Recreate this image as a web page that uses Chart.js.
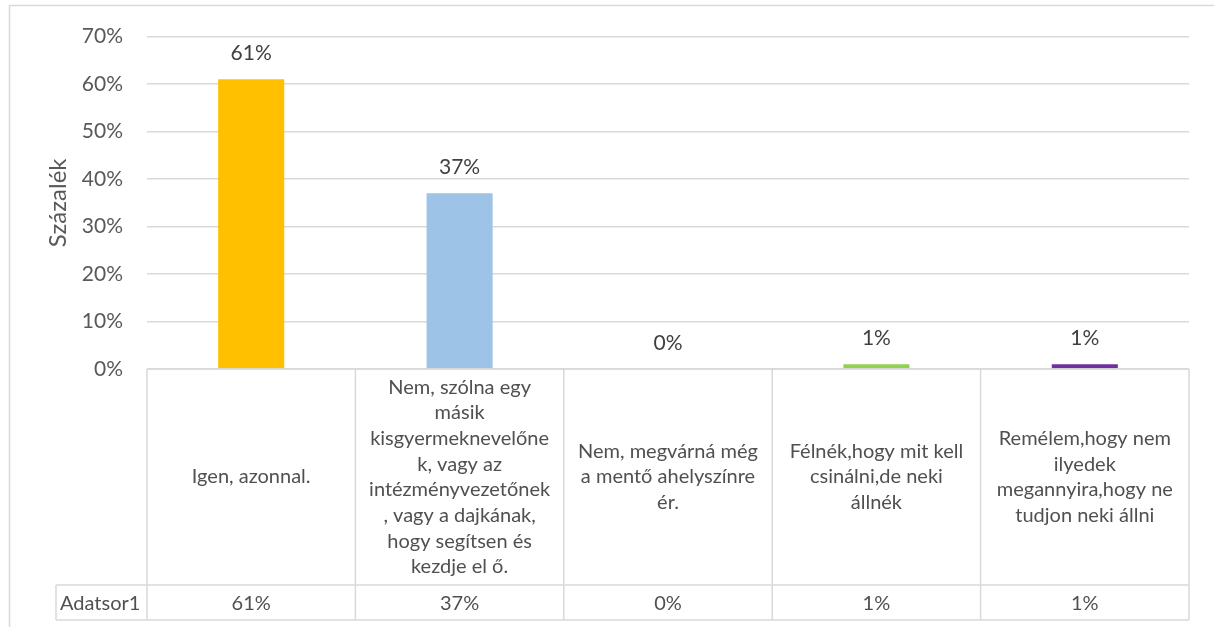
<!DOCTYPE html>
<html>
<head>
<meta charset="utf-8">
<script src="https://cdn.jsdelivr.net/npm/chart.js@4/dist/chart.umd.min.js"></script>
<style>
  html, body { margin: 0; padding: 0; background: #fff; }
  #wrap { width: 1214px; height: 627px; }
</style>
</head>
<body>
<div id="wrap"><canvas id="chart" width="1214" height="627"></canvas></div>
<script>
// Chart data
const categories = [
  ['Igen, azonnal.'],
  ['Nem, szólna egy', 'másik', 'kisgyermeknevelőne', 'k, vagy az', 'intézményvezetőnek', ', vagy a dajkának,', 'hogy segítsen és', 'kezdje el ő.'],
  ['Nem, megvárná még', 'a mentő ahelyszínre', 'ér.'],
  ['Félnék,hogy mit kell', 'csinálni,de neki', 'állnék'],
  ['Remélem,hogy nem', 'ilyedek', 'megannyira,hogy ne', 'tudjon neki állni']
];
const seriesName = 'Adatsor1';
const values = [61, 37, 0, 1, 1];
const barColors = ['#FFC000', '#9DC3E6', '#ED7D31', '#92D050', '#7030A0'];
const yTicks = [0, 10, 20, 30, 40, 50, 60, 70];

const FONT = 'Lato, "Open Sans", sans-serif';
const gridColor = '#D9D9D9';

// Frame round the whole chart
const framePlugin = {
  id: 'frame',
  beforeDraw(chart) {
    const ctx = chart.ctx;
    ctx.save();
    ctx.strokeStyle = gridColor;
    ctx.lineWidth = 1.5;
    ctx.strokeRect(9.5, 5.5, 1300, 700);
    ctx.restore();
  }
};

// Value labels above the bars
const valueLabels = {
  id: 'valueLabels',
  afterDatasetsDraw(chart) {
    const ctx = chart.ctx;
    const meta = chart.getDatasetMeta(0);
    ctx.save();
    ctx.font = '21px ' + FONT;
    ctx.fillStyle = '#404040';
    ctx.textAlign = 'center';
    ctx.textBaseline = 'middle';
    meta.data.forEach((bar, i) => {
      ctx.fillText(values[i] + '%', bar.x, bar.y - 26);
    });
    ctx.restore();
  }
};

// Data table under the plot
const dataTable = {
  id: 'dataTable',
  afterDraw(chart) {
    const ctx = chart.ctx;
    const xs = chart.scales.x;
    const area = chart.chartArea;
    const n = categories.length;
    const half = (xs.getPixelForValue(1) - xs.getPixelForValue(0)) / 2;
    const top = area.bottom;
    const rowSplit = 585;
    const bottom = 620;
    const leftCell = 56;

    ctx.save();
    ctx.strokeStyle = gridColor;
    ctx.lineWidth = 1.5;
    // table grid
    ctx.beginPath();
    ctx.moveTo(area.left, top); ctx.lineTo(area.right, top);
    ctx.moveTo(leftCell, rowSplit); ctx.lineTo(area.right, rowSplit);
    ctx.moveTo(leftCell, bottom); ctx.lineTo(area.right, bottom);
    ctx.moveTo(leftCell, rowSplit); ctx.lineTo(leftCell, bottom);
    for (let i = 0; i <= n; i++) {
      const x = i < n ? xs.getPixelForValue(i) - half : xs.getPixelForValue(n - 1) + half;
      ctx.moveTo(x, top); ctx.lineTo(x, bottom);
    }
    ctx.stroke();

    ctx.fillStyle = '#505050';
    ctx.font = '20px ' + FONT;
    ctx.textBaseline = 'middle';
    ctx.textAlign = 'center';
    const lh = 25.7;
    const mid = (top + rowSplit) / 2;
    categories.forEach((lines, i) => {
      const cx = xs.getPixelForValue(i);
      const y0 = mid - (lines.length - 1) * lh / 2;
      lines.forEach((t, k) => ctx.fillText(t, cx, y0 + k * lh));
      ctx.fillText(values[i] + '%', cx, (rowSplit + bottom) / 2 + 1);
    });
    ctx.textAlign = 'left';
    ctx.fillText(seriesName, leftCell + 4, (rowSplit + bottom) / 2 + 1);
    ctx.restore();
  }
};

new Chart(document.getElementById('chart'), {
  type: 'bar',
  data: {
    labels: categories.map(c => c.join(' ')),
    datasets: [{
      label: seriesName,
      data: values,
      backgroundColor: barColors,
      barPercentage: 0.317,
      categoryPercentage: 1
    }]
  },
  options: {
    responsive: false,
    animation: false,
    events: [],
    layout: { padding: { left: 10, right: 25, top: 35, bottom: 258 } },
    plugins: { legend: { display: false }, tooltip: { enabled: false } },
    scales: {
      x: { display: false },
      y: {
        min: 0,
        max: 70,
        afterBuildTicks: s => { s.ticks = yTicks.map(v => ({ value: v })); },
        afterFit: s => { s.width = 137; },
        border: { display: false },
        grid: { color: gridColor, lineWidth: 1.5, drawTicks: false },
        ticks: {
          padding: 24,
          color: '#595959',
          font: { family: FONT, size: 21 },
          callback: v => v + '%'
        },
        title: {
          display: true,
          text: 'Százalék',
          color: '#595959',
          font: { family: FONT, size: 24 },
          padding: { top: 34, bottom: 0 }
        }
      }
    }
  },
  plugins: [framePlugin, valueLabels, dataTable]
});
</script>
</body>
</html>
